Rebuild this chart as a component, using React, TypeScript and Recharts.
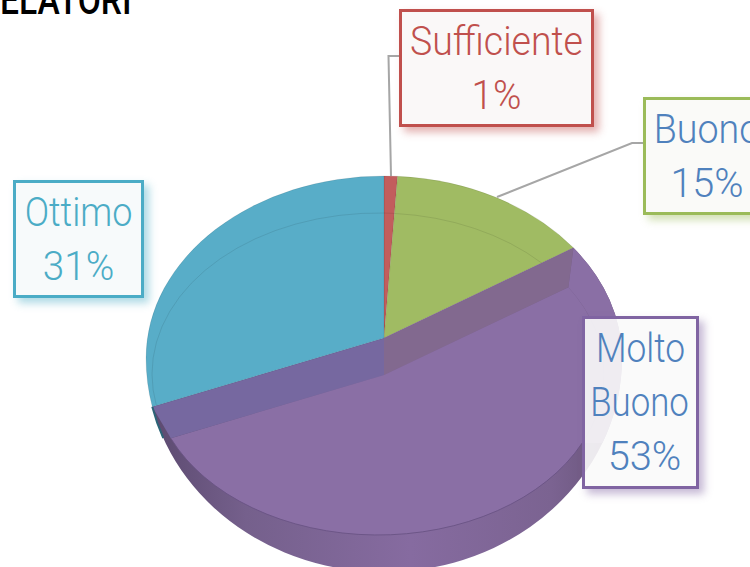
import React from 'react';
import { PieChart, Pie } from 'recharts';

const categories = ['Sufficiente', 'Buono', 'Molto Buono', 'Ottimo'];
const shares = [1, 15, 53, 31];
const fills = ['#c25d5d', '#a0bb63', '#8a6fa5', '#58adc8'];

const chartData = categories.map((name, i) => ({ name, value: shares[i], fill: fills[i] }));
const labelLines = categories.map((name, i) => [...name.split(' '), `${shares[i]}%`]);

// label boxes, drawn over the pie
const boxes = [
  { left: 399, top: 9, width: 195, height: 118, border: '#c0504d', color: '#c0504d', tint: '249,247,247', shadow: 'rgba(192,80,77,.45)', widths: [0.937, 0.963], nudge: [0, 0] },
  { left: 643, top: 97, width: 128, height: 118, border: '#9bbb59', color: '#4f81bd', tint: '249,249,247', shadow: 'rgba(155,187,89,.45)', widths: [0.94, 0.99], nudge: [0, 0] },
  { left: 582, top: 316, width: 117, height: 173, border: '#8064a2', color: '#4f81bd', tint: '249,249,250', shadow: 'rgba(128,100,162,.45)', widths: [0.883, 0.87, 0.997], nudge: [0, -2, 4] },
  { left: 13, top: 180, width: 131, height: 118, border: '#4bacc6', color: '#4bacc6', tint: '246,250,251', shadow: 'rgba(75,172,198,.45)', widths: [0.9, 0.966], nudge: [0, 0] },
];

const FONT = 'Roboto, "Liberation Sans", sans-serif';
const TILT = 0.75;

// egg shaped rim: the half above cy is flatter than the half below it
type Rim = { cx: number; cy: number; rx: number; ryTop: number; ryBottom: number };
type Pt = { x: number; y: number };

const solveRay = (ax: number, ay: number, dx: number, dy: number, e: Rim, ry: number): Pt => {
  const ox = (ax - e.cx) / e.rx;
  const oy = (ay - e.cy) / ry;
  const px = dx / e.rx;
  const py = dy / ry;
  const A = px * px + py * py;
  const B = 2 * (ox * px + oy * py);
  const C = ox * ox + oy * oy - 1;
  const t = (-B + Math.sqrt(B * B - 4 * A * C)) / (2 * A);
  return { x: ax + t * dx, y: ay + t * dy };
};

// where the ray from the apex at angle a meets the rim
const rimPoint = (ax: number, ay: number, a: number, e: Rim): Pt => {
  const rad = (a * Math.PI) / 180;
  const dx = Math.cos(rad);
  const dy = -TILT * Math.sin(rad);
  const top = solveRay(ax, ay, dx, dy, e, e.ryTop);
  return top.y <= e.cy ? top : solveRay(ax, ay, dx, dy, e, e.ryBottom);
};

const singleArc = (p: Pt, q: Pt, e: Rim, ry: number, sweep: number) => {
  const ang = (v: Pt) => Math.atan2((v.y - e.cy) / ry, (v.x - e.cx) / e.rx);
  let d = sweep ? ang(q) - ang(p) : ang(p) - ang(q);
  if (d < 0) d += Math.PI * 2;
  return `A ${e.rx} ${ry} 0 ${d > Math.PI ? 1 : 0} ${sweep} ${q.x} ${q.y}`;
};

const arcTo = (p: Pt, q: Pt, e: Rim, sweep = 1) => {
  const pLow = p.y > e.cy;
  const qLow = q.y > e.cy;
  if (pLow === qLow) return singleArc(p, q, e, pLow ? e.ryBottom : e.ryTop, sweep);
  const onRight = (sweep === 1) === !pLow;
  const side = { x: e.cx + (onRight ? e.rx : -e.rx), y: e.cy };
  return `${singleArc(p, side, e, pLow ? e.ryBottom : e.ryTop, sweep)} ${singleArc(side, q, e, qLow ? e.ryBottom : e.ryTop, sweep)}`;
};

const atHeight = (y: number, e: Rim, dir: number): Pt => {
  const ry = y > e.cy ? e.ryBottom : e.ryTop;
  return { x: e.cx + dir * e.rx * Math.sqrt(1 - ((y - e.cy) / ry) ** 2), y };
};

const EllipticSlice = (props: any) => {
  const { cx, cy, outerRadius, startAngle, endAngle, fill, name } = props;
  const outer: Rim = { cx, cy: cy + 20, rx: outerRadius, ryTop: 182, ryBottom: 214 };
  const inner: Rim = { cx: cx - 6, cy: cy + 36, rx: outerRadius - 12, ryTop: 161, ryBottom: 161 };
  const p1 = rimPoint(cx, cy, startAngle, outer);
  const p2 = rimPoint(cx, cy, endAngle, outer);

  if (name !== 'Molto Buono') {
    const r1 = rimPoint(cx, cy, startAngle, inner);
    const r2 = rimPoint(cx, cy, endAngle, inner);
    return (
      <g>
        <path d={`M ${cx} ${cy} L ${p1.x} ${p1.y} ${arcTo(p1, p2, outer)} Z`} fill={fill} stroke="rgba(0,0,0,.12)" strokeWidth={0.7} />
        <path d={`M ${r1.x} ${r1.y} ${arcTo(r1, r2, inner)}`} fill="none" stroke="rgba(0,0,0,.09)" strokeWidth={1} />
      </g>
    );
  }

  const lowY = cy + 37;
  const i1 = rimPoint(cx, lowY, startAngle, inner);
  const i2 = rimPoint(cx, lowY, endAngle, inner);
  const wallTopY = cy + 105;
  const sideOuter = atHeight(wallTopY, outer, 1);
  const sideInner = atHeight(wallTopY, inner, 1);
  const sliverEnd = atHeight(cy + 100, outer, -1);

  return (
    <g>
      <path d={`M ${cx} ${cy} L ${p1.x} ${p1.y} ${arcTo(p1, p2, outer)} Z`} fill="url(#purpleWall)" />
      <path d={`M ${p1.x} ${p1.y} ${arcTo(p1, sideOuter, outer)} L ${sideInner.x} ${sideInner.y} ${arcTo(sideInner, i1, inner, 0)} Z`} fill={fill} />
      <path d={`M ${cx} ${lowY} L ${i1.x} ${i1.y} ${arcTo(i1, i2, inner)} Z`} fill={fill} />
      <path d={`M ${sideInner.x} ${sideInner.y} ${arcTo(sideInner, i2, inner)}`} fill="none" stroke="#6a5384" strokeWidth={0.9} />
      <path d={`M ${cx} ${cy} L ${p1.x} ${p1.y} L ${i1.x} ${i1.y} L ${cx} ${lowY} Z`} fill="#82698f" />
      <path d={`M ${cx} ${cy} L ${p2.x} ${p2.y} L ${i2.x} ${i2.y} L ${cx} ${lowY} Z`} fill="#7668a0" />
      <path d={`M ${p2.x} ${p2.y} ${arcTo(p2, sliverEnd, outer, 0)}`} stroke="#2c6478" strokeWidth={2} fill="none" />
    </g>
  );
};

export default function App() {
  return (
    <div style={{ position: 'fixed', left: 0, top: 0, width: 750, height: 567, overflow: 'hidden', background: '#fff', fontFamily: FONT }}>
      <div style={{ position: 'absolute', left: 0, top: -17, fontSize: 40, lineHeight: '36px', fontWeight: 500, color: '#000', transform: 'scaleX(.84)', transformOrigin: 'left' }}>
        ELATORI
      </div>

      <PieChart width={750} height={567} margin={{ top: 0, right: 0, bottom: 0, left: 0 }} style={{ position: 'absolute', left: 0, top: 0 }}>
        <defs>
          <linearGradient id="purpleWall" x1="0" y1="0" x2="1" y2="0">
            <stop offset="0" stopColor="#5c4a70" />
            <stop offset="0.2" stopColor="#75608c" />
            <stop offset="0.55" stopColor="#866ba0" />
            <stop offset="0.85" stopColor="#7b6391" />
            <stop offset="1" stopColor="#665277" />
          </linearGradient>
        </defs>
        <Pie
          data={chartData}
          dataKey="value"
          nameKey="name"
          cx={384}
          cy={338}
          outerRadius={238}
          startAngle={90}
          endAngle={-270}
          stroke="none"
          shape={EllipticSlice}
          isAnimationActive={false}
        />
      </PieChart>

      <svg width={750} height={567} style={{ position: 'absolute', left: 0, top: 0 }}>
        <polyline points="399,56 388.5,56 391,176" fill="none" stroke="#a6a6a6" strokeWidth={2} />
        <polyline points="643,143 632,143 497,197" fill="none" stroke="#a6a6a6" strokeWidth={2} />
      </svg>

      {boxes.map((b, i) => (
        <div
          key={categories[i]}
          style={{
            position: 'absolute',
            left: b.left,
            top: b.top,
            width: b.width,
            height: b.height,
            boxSizing: 'border-box',
            border: `3px solid ${b.border}`,
            background: `rgba(${b.tint},.9)`,
            boxShadow: `5px 5px 8px ${b.shadow}`,
            color: b.color,
            textAlign: 'center',
            fontSize: 40,
            fontWeight: 300,
            lineHeight: '54px',
            paddingTop: 3,
          }}
        >
          {labelLines[i].map((l, j) => (
            <div key={l} style={{ whiteSpace: 'nowrap', transform: `translateX(${b.nudge[j]}px) scaleX(${b.widths[j]})` }}>{l}</div>
          ))}
        </div>
      ))}
    </div>
  );
}
